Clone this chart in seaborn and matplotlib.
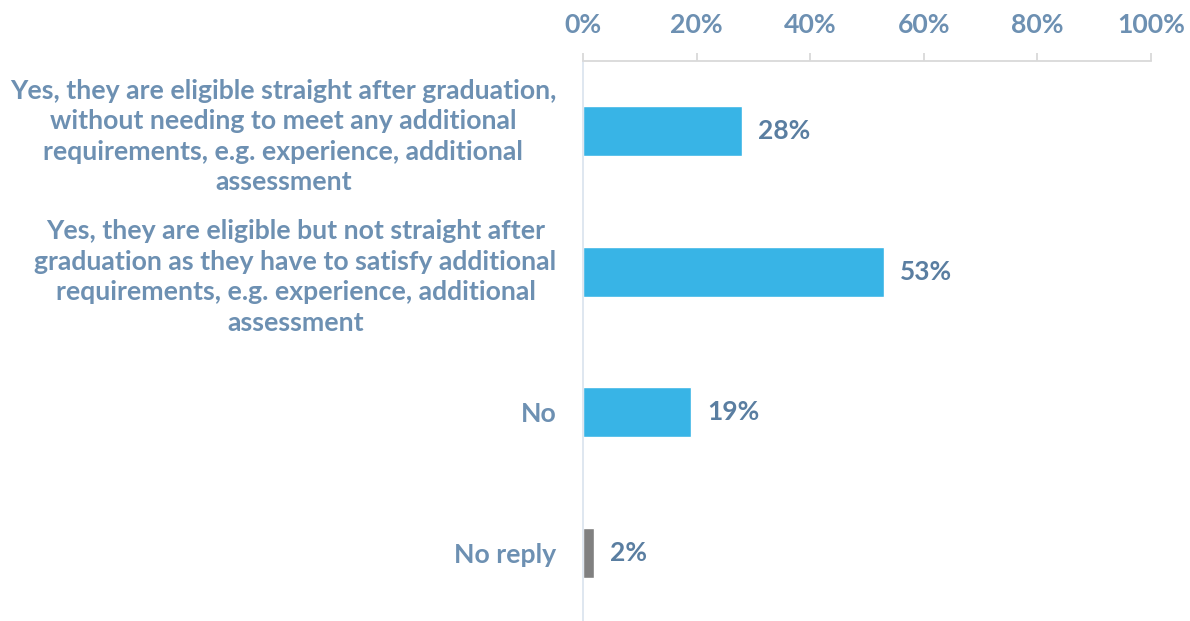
import matplotlib
matplotlib.use("Agg")
import matplotlib.pyplot as plt
import seaborn as sns
import pandas as pd

categories = [
    "Yes, they are eligible straight after graduation,\nwithout needing to meet any additional\nrequirements, e.g. experience, additional\nassessment",
    "Yes, they are eligible but not straight after\ngraduation as they have to satisfy additional\nrequirements, e.g. experience, additional\nassessment",
    "No",
    "No reply",
]
shares = [28, 53, 19, 2]
bar_colors = ["#38B4E6", "#38B4E6", "#38B4E6", "#808080"]
x_ticks = [0, 20, 40, 60, 80, 100]

TEXT = "#6D90B2"
VALUE = "#5A7EA1"
GRID = "#D9D9D9"

sns.set_theme(style="white")
plt.rcParams["font.family"] = ["Lato", "DejaVu Sans"]
plt.rcParams["font.weight"] = "bold"

df = pd.DataFrame({"category": categories, "share": shares})

fig = plt.figure(figsize=(11.9, 6.21), dpi=100)
ax = fig.add_axes([583 / 1190, -2 / 621, (1151 - 583) / 1190, (621 - 61 + 2) / 621])

sns.barplot(data=df, x="share", y="category", hue="category",
            palette=dict(zip(categories, bar_colors)), legend=False,
            orient="h", width=0.356, saturation=1, ax=ax)

ax.set_xlim(0, 100)
ax.set_ylim(3.5, -0.5)
ax.set_xlabel("")
ax.set_ylabel("")

ax.xaxis.tick_top()
ax.set_xticks(x_ticks)
ax.set_xticklabels([f"{v}%" for v in x_ticks])
ax.tick_params(axis="x", which="both", top=True, bottom=False, length=6,
               width=1.3, color=GRID, pad=11, labelsize=19.2, labelcolor=TEXT)
ax.tick_params(axis="y", length=0, pad=19, labelsize=19.2, labelcolor=TEXT)
for t in ax.get_yticklabels():
    t.set_multialignment("center")
    t.set_fontweight("bold")
    t.set_linespacing(1.33)
for t in ax.get_xticklabels():
    t.set_fontweight("bold")

for side in ["right", "bottom"]:
    ax.spines[side].set_visible(False)
ax.spines["top"].set_color(GRID)
ax.spines["top"].set_linewidth(1.3)
ax.spines["left"].set_color("#DCE5EF")
ax.spines["left"].set_linewidth(1.3)

for i, v in enumerate(shares):
    ax.text(v + 2.8, i, f"{v}%", va="center", ha="left", fontsize=19,
            fontweight="bold", color=VALUE)

fig.savefig("out.png", dpi=100)
